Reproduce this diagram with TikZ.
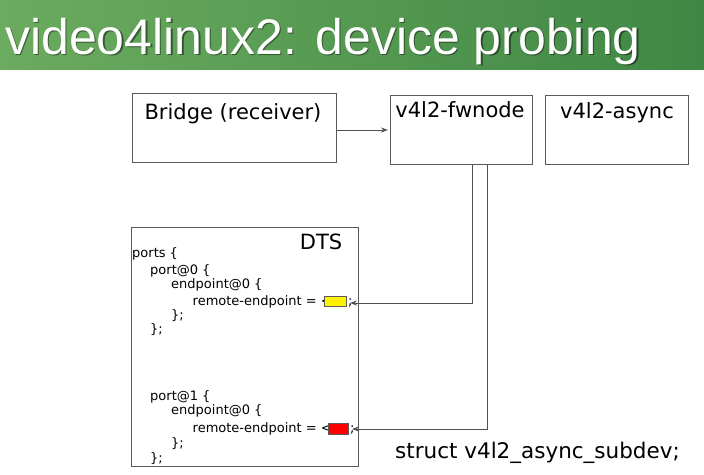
\documentclass[tikz,border=0pt]{standalone}
\usepackage{fontspec}
\setmainfont{DejaVu Sans}
\newfontfamily\titlefont{Liberation Sans}
\usetikzlibrary{arrows.meta}

\definecolor{barleft}{HTML}{6BAB5F}
\definecolor{barright}{HTML}{3F8744}
\definecolor{boxgray}{HTML}{5A5A5A}
\definecolor{linegray}{HTML}{505050}

\tikzset{
  box/.style={draw=boxgray, line width=1.1pt, inner sep=0pt, anchor=north west},
  hdr/.style={font=\fontsize{21}{25}\selectfont, inner sep=0pt, anchor=base},
  code/.style={font=\fontsize{13}{15}\selectfont, inner sep=0pt, anchor=base west},
  conn/.style={draw=linegray, line width=0.9pt},
  tip/.style={-{Stealth[length=7pt,width=5pt]}},
  refbox/.style={draw=boxgray, line width=0.6pt, inner sep=0pt}
}

\begin{document}
\begin{tikzpicture}[x=1pt,y=-1pt]
\useasboundingbox (0,0) rectangle (704,474);

% title bar
\shade[left color=barleft, right color=barright] (0,0) rectangle (704,69);
\node[anchor=base west, inner sep=0pt, text=black, opacity=0.45,
      font=\titlefont\fontsize{50}{60}\selectfont] (titleshadow) at (6.5,55.5) {video4linux2: device probing};
\node[anchor=base west, inner sep=0pt, text=white,
      font=\titlefont\fontsize{50}{60}\selectfont] (title) at (5,54) {video4linux2: device probing};

% framework boxes
\node[box, minimum width=204pt, minimum height=69pt] (bridge) at (132,93) {};
\node[box, minimum width=142pt, minimum height=69pt] (fwnode) at (390,95) {};
\node[box, minimum width=143pt, minimum height=69pt] (async) at (545,95) {};
\node[box, minimum width=227pt, minimum height=239pt] (dts) at (131,227) {};

\node[hdr] (bridgetxt) at (233,119.5) {Bridge (receiver)};
\node[hdr] (fwnodetxt) at (460,117) {v4l2-fwnode};
\node[hdr] (asynctxt) at (617,118.5) {v4l2-async};
\node[hdr] (dtstxt) at (321,249) {DTS};
\node[hdr, font=\fontsize{21.5}{25}\selectfont] (subdev) at (537.5,458.5) {struct v4l2\_async\_subdev;};

% device tree listing
\node[code] (l1) at (132,257.5) {ports \{};
\node[code] (l2) at (150,274) {port@0 \{};
\node[code] (l3) at (171,288.5) {endpoint@0 \{};
\node[code] (l4) at (192.5,305) {remote-endpoint = <};
\node[code] (l5) at (171,319.5) {\};};
\node[code] (l6) at (150,333.5) {\};};

\node[code] (m1) at (150,400) {port@1 \{};
\node[code] (m2) at (171,414.5) {endpoint@0 \{};
\node[code] (m3) at (192.5,432) {remote-endpoint = <};
\node[code] (m4) at (171,447.5) {\};};
\node[code] (m5) at (150,462.5) {\};};

% endpoint references
\node[refbox, fill=yellow, minimum width=22pt, minimum height=10pt] (yref) at (335,301) {};
\node[code] (ysemi) at (348,305) {;};
\node[refbox, fill=red, minimum width=20pt, minimum height=11pt] (rref) at (338,428.5) {};
\node[code] (rsemi) at (350,432) {;};

% connectors
\coordinate (arrowrow) at (0,130);
\draw[conn, tip, shorten >=2pt] (bridge.east |- arrowrow) -- (fwnode.west |- arrowrow);

\coordinate (colA) at (472,0);
\coordinate (colB) at (487,0);
\coordinate (yellowin) at (350,303);
\coordinate (redin) at (352,429);
\draw[conn, tip] (fwnode.south -| colA) |- (yellowin);
\draw[conn, tip] (fwnode.south -| colB) |- (redin);
\end{tikzpicture}
\end{document}
